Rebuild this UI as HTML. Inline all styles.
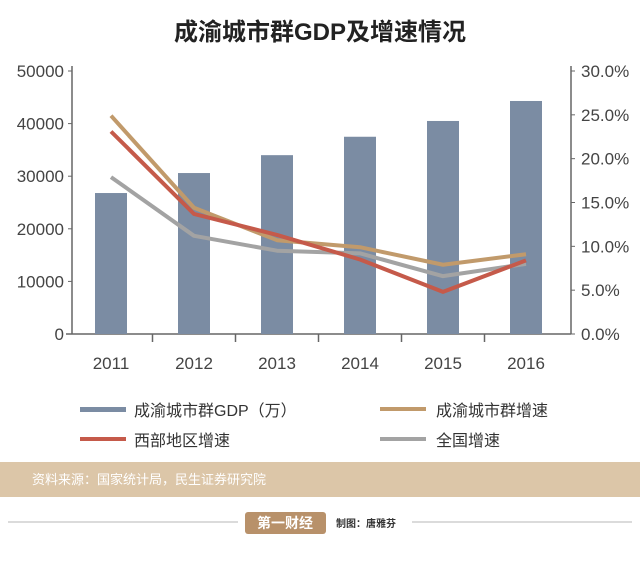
<!DOCTYPE html>
<html><head><meta charset="utf-8"><style>
body{margin:0;width:640px;height:568px;background:#fff;overflow:hidden;font-family:"Liberation Sans","Noto Sans CJK SC",sans-serif}
svg text{font-family:"Liberation Sans","Noto Sans CJK SC",sans-serif}
</style></head><body>
<svg id="c" width="640" height="568">
<text x="320" y="40" text-anchor="middle" font-size="24" font-weight="bold" fill="#222">成渝城市群GDP及增速情况</text>
<g id="axes"></g><g id="bars"></g><g id="lines"></g>
<g>
<rect x="80" y="407" width="46" height="5" fill="#7b8ca3"/>
<text x="134" y="416" font-size="16" fill="#333">成渝城市群GDP（万）</text>
<rect x="380" y="407" width="46" height="4" fill="#c19a6b"/>
<text x="436" y="416" font-size="16" fill="#333">成渝城市群增速</text>
<rect x="80" y="437" width="46" height="4" fill="#c55a4a"/>
<text x="134" y="446" font-size="16" fill="#333">西部地区增速</text>
<rect x="380" y="437" width="46" height="4" fill="#a3a3a3"/>
<text x="436" y="446" font-size="16" fill="#333">全国增速</text>
</g>
<rect x="0" y="462" width="640" height="35" fill="#dcc6a8"/>
<text x="32" y="484" font-size="13" fill="#fff">资料来源：国家统计局，民生证券研究院</text>
<line x1="8" y1="522" x2="238" y2="522" stroke="#cfcfcf" stroke-width="1.5"/>
<line x1="412" y1="522" x2="632" y2="522" stroke="#cfcfcf" stroke-width="1.5"/>
<rect x="245" y="512" width="81" height="22" rx="3" fill="#b8916a"/>
<text x="285" y="528" font-size="14" font-weight="bold" fill="#fff" text-anchor="middle">第一财经</text>
<text x="336" y="527" font-size="10" font-weight="bold" fill="#333">制图：唐雅芬</text>
</svg>
<script>
const years=["2011","2012","2013","2014","2015","2016"];
const gdp=[26800,30600,34000,37500,40500,44300];
const chengyu=[24.9,14.4,10.7,9.9,7.9,9.1];
const west=[23.1,13.7,11.3,8.5,4.8,8.4];
const national=[17.9,11.2,9.5,9.2,6.6,8.0];
const leftTicks=[0,10000,20000,30000,40000,50000];
const rightTicks=[0,5,10,15,20,25,30];
const NS="http://www.w3.org/2000/svg";
const x0=72,x1=571,yb=334,yt=71;
const xc=i=>111+i*83;
const yL=v=>yb-(v/50000)*(yb-yt);
const yR=v=>yb-(v/30)*(yb-yt);
function mk(tag,at,parent){const e=document.createElementNS(NS,tag);for(const k in at)e.setAttribute(k,at[k]);document.getElementById(parent).appendChild(e);return e;}
let e;
e=mk('line',{x1:x0,y1:66,x2:x0,y2:yb,stroke:'#666','stroke-width':1.5},'axes');


e=mk('line',{x1:x1,y1:66,x2:x1,y2:yb,stroke:'#666','stroke-width':1.5},'axes');


e=mk('line',{x1:66,y1:yb,x2:x1,y2:yb,stroke:'#666','stroke-width':1.5},'axes');


leftTicks.forEach(v=>{mk('line',{x1:x0-4,y1:yL(v),x2:x0,y2:yL(v),stroke:'#666'},'axes');
e=mk('text',{x:x0-8,y:yL(v)+6,'text-anchor':'end','font-size':17,fill:'#444'},'axes');e.textContent=v;

});
rightTicks.forEach(v=>{mk('line',{x1:x1,y1:yR(v),x2:x1+4,y2:yR(v),stroke:'#666'},'axes');
e=mk('text',{x:x1+10,y:yR(v)+6,'font-size':17,fill:'#444'},'axes');e.textContent=v.toFixed(1)+'%';

});
years.forEach((y,i)=>{if(i>0)mk('line',{x1:xc(i)-41.5,y1:yb,x2:xc(i)-41.5,y2:yb+8,stroke:'#666','stroke-width':1.5},'axes');
e=mk('text',{x:xc(i),y:369,'text-anchor':'middle','font-size':17,fill:'#444'},'axes');e.textContent=y;


e=mk('rect',{x:xc(i)-16,y:yL(gdp[i]),width:32,height:yb-yL(gdp[i]),fill:'#7b8ca3'},'bars');

});
[[chengyu,'#c19a6b','line-chengyu'],[national,'#a3a3a3','line-national'],[west,'#c55a4a','line-west']].forEach(([d,c,n])=>{
e=mk('polyline',{points:d.map((v,i)=>xc(i)+','+yR(v)).join(' '),fill:'none',stroke:c,'stroke-width':4,'stroke-linejoin':'round'},'lines');

});
</script>
</body></html>
